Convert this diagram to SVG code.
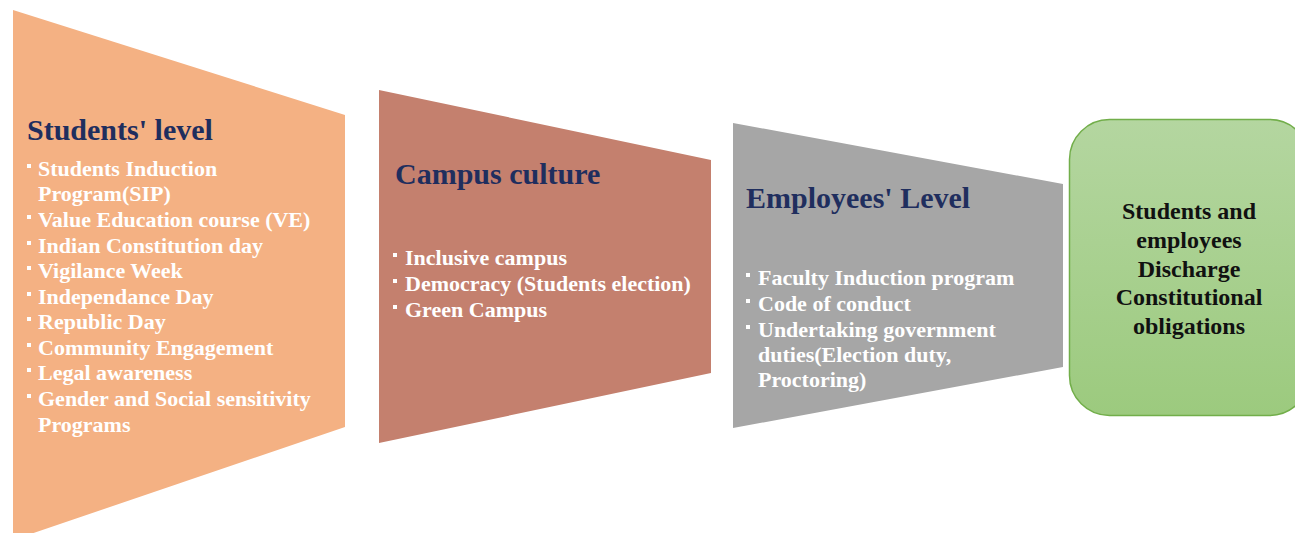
<svg xmlns="http://www.w3.org/2000/svg" width="1295" height="533" viewBox="0 0 1295 533">
<defs>
<linearGradient id="gg" x1="0" y1="0" x2="0" y2="1">
<stop offset="0" stop-color="#B4D6A0"/>
<stop offset="1" stop-color="#9CCA7E"/>
</linearGradient>
<style>
.title{font-family:"Liberation Serif","Times New Roman",serif;font-weight:bold;font-size:30px;fill:#1F2E5E}
.item{font-family:"Liberation Serif","Times New Roman",serif;font-weight:bold;font-size:22px;fill:#FFFFFF}
.bul{fill:#FFFFFF}
.out{font-family:"Liberation Serif","Times New Roman",serif;font-weight:bold;font-size:24px;fill:#111111;text-anchor:middle}
</style>
</defs>
<rect width="1295" height="533" fill="#FFFFFF"/>
<g id="students-level">
<polygon points="13,10 345,115 345,427 13,540" fill="#F4B183"/>
<text class="title" x="27" y="140">Students' level</text>
<g class="bul">
<rect x="27" y="164" width="4" height="4"/>
<rect x="27" y="215" width="4" height="4"/>
<rect x="27" y="241" width="4" height="4"/>
<rect x="27" y="266" width="4" height="4"/>
<rect x="27" y="292" width="4" height="4"/>
<rect x="27" y="317" width="4" height="4"/>
<rect x="27" y="343" width="4" height="4"/>
<rect x="27" y="368" width="4" height="4"/>
<rect x="27" y="394" width="4" height="4"/>
</g>
<text class="item" x="38" y="176">Students Induction</text>
<text class="item" x="38" y="201">Program(SIP)</text>
<text class="item" x="38" y="227">Value Education course (VE)</text>
<text class="item" x="38" y="253">Indian Constitution day</text>
<text class="item" x="38" y="278">Vigilance Week</text>
<text class="item" x="38" y="304">Independance Day</text>
<text class="item" x="38" y="329">Republic Day</text>
<text class="item" x="38" y="355">Community Engagement</text>
<text class="item" x="38" y="380">Legal awareness</text>
<text class="item" x="38" y="406">Gender and Social sensitivity</text>
<text class="item" x="38" y="432">Programs</text>
</g>
<g id="campus-culture">
<polygon points="379,90 711,160 711,373 379,443" fill="#C4806E"/>
<text class="title" x="395" y="184">Campus culture</text>
<g class="bul">
<rect x="393" y="253" width="4" height="4"/>
<rect x="393" y="279" width="4" height="4"/>
<rect x="393" y="305" width="4" height="4"/>
</g>
<text class="item" x="405" y="265">Inclusive campus</text>
<text class="item" x="405" y="291">Democracy (Students election)</text>
<text class="item" x="405" y="317">Green Campus</text>
</g>
<g id="employees-level">
<polygon points="733,123 1063,184 1063,367 733,428" fill="#A6A6A6"/>
<text class="title" x="746" y="208">Employees' Level</text>
<g class="bul">
<rect x="746" y="273" width="4" height="4"/>
<rect x="746" y="299" width="4" height="4"/>
<rect x="746" y="325" width="4" height="4"/>
</g>
<text class="item" x="758" y="285">Faculty Induction program</text>
<text class="item" x="758" y="311">Code of conduct</text>
<text class="item" x="758" y="337">Undertaking government</text>
<text class="item" x="758" y="362">duties(Election duty,</text>
<text class="item" x="758" y="387">Proctoring)</text>
</g>
<g id="outcome">
<rect x="1069.5" y="119.5" width="240" height="296" rx="40" ry="40" fill="url(#gg)" stroke="#72AE4A" stroke-width="1.5"/>
<text class="out" x="1189" y="219">Students and</text>
<text class="out" x="1189" y="248">employees</text>
<text class="out" x="1189" y="277">Discharge</text>
<text class="out" x="1189" y="305">Constitutional</text>
<text class="out" x="1189" y="334">obligations</text>
</g>
<g id="connectors"></g>
</svg>
